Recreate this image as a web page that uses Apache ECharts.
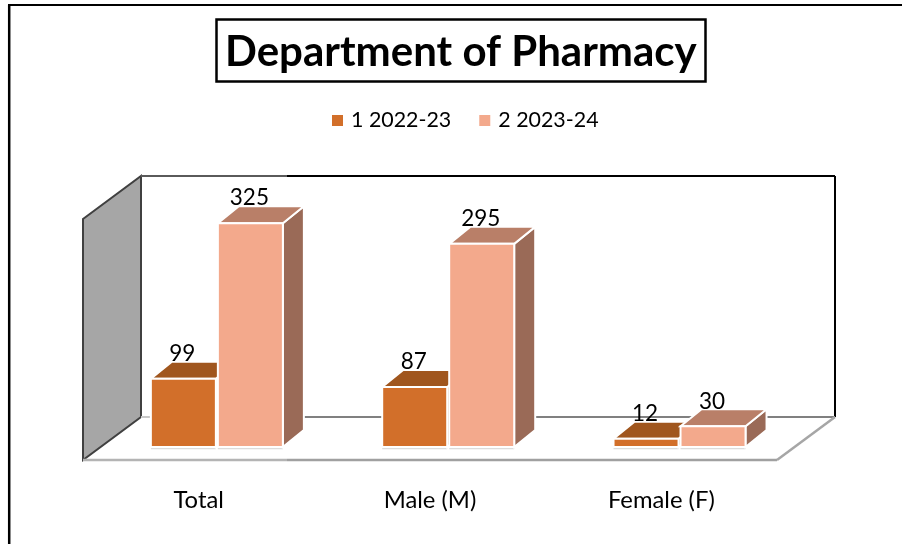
<!DOCTYPE html>
<html><head><meta charset="utf-8">
<style>html,body{margin:0;padding:0;background:#fff}#c{width:902px;height:544px}</style>
<script src="https://cdn.jsdelivr.net/npm/echarts@6/dist/echarts.min.js"></script>
</head><body><div id="c"></div>
<script>
const titleText = 'Department of Pharmacy';
const categories = ['Total', 'Male (M)', 'Female (F)'];
const seriesNames = ['1 2022-23', '2 2023-24'];
const values2022 = [99, 87, 12];
const values2023 = [325, 295, 30];
const FONT = 'Lato';
const chart = echarts.init(document.getElementById('c'));
const depth = {wallX:58, wallY:43, planeX:18.2, planeY:13, barX:21, barY:17};

function poly(points, fill) {
  return {type:'polygon', shape:{points}, style:{fill, stroke:'#fff', lineWidth:2, lineJoin:'miter'}};
}
function seg(x1,y1,x2,y2,color,w){
  return {type:'line', shape:{x1,y1,x2,y2}, style:{stroke:color, lineWidth:w||2}};
}
function renderWalls(params, api){
  const c = params.coordSys, L=c.x, R=c.x+c.width, B=c.y+c.height, T=c.y;
  const dx=depth.wallX, dy=depth.wallY;
  const mid = L + 204;
  return {type:'group', children:[
    {type:'polygon', shape:{points:[[L,T],[L+dx,T-dy],[L+dx,B-dy],[L,B]]},
      style:{fill:'#a6a6a6', stroke:'#404040', lineWidth:2}},
    seg(L+dx,T-dy,mid,T-dy,'#5a5a5a'), seg(mid,T-dy,R+dx,T-dy,'#000'),
    seg(R+dx,T-dy,R+dx,B-dy,'#000'),
    seg(L+dx,B-dy,mid,B-dy,'#c8c8c8'), seg(mid,B-dy,R+dx,B-dy,'#808080'),
    seg(L,B,mid,B,'#b4b4b4',2.5), seg(mid,B,R,B,'#a0a0a0',2.5),
    seg(R,B,R+dx,B-dy,'#a6a6a6',2.5)
  ]};
}
function barRenderer(front, top, side, sign){
  return function(params, api){
    const i = api.value(0), v = api.value(1);
    const p = api.coord([i, v]), p0 = api.coord([i, 0]);
    const band = api.size([1, 0])[0];
    const w = band * 0.281, gap = 1;
    const x0 = p[0] + depth.planeX + (sign < 0 ? -gap - w : gap), x1 = x0 + w;
    const yT = p[1] - depth.planeY, yB = p0[1] - depth.planeY;
    const dx = depth.barX, dy = depth.barY;
    return {type:'group', children:[
      seg(x0,yB+1.5,x1,yB+1.5,'#dcdcdc',1.5),
      poly([[x1,yT],[x1+dx,yT-dy],[x1+dx,yB-dy],[x1,yB]], side),
      poly([[x0,yT],[x0+dx,yT-dy],[x1+dx,yT-dy],[x1,yT]], top),
      poly([[x0,yT],[x1,yT],[x1,yB],[x0,yB]], front),
      {type:'text', z2:50, style:{text:String(v), x:(x0+x1)/2-1, y:yT-25, align:'center', verticalAlign:'middle',
        font:'22.5px '+FONT, fill:'#000'}}
    ]};
  };
}
const toData = a => a.map((v,i)=>[i,v]);
chart.setOption({
  animation:false,
  backgroundColor:'#fff',
  title:{text:titleText, left:216, top:19, padding:[12,9,9,9], borderColor:'#000', borderWidth:2.5,
    textStyle:{fontFamily:FONT, fontWeight:'bold', fontSize:42, color:'#000'}},
  legend:{data:seriesNames, left:327, top:105, itemWidth:11, itemHeight:11, itemGap:28, icon:'rect',
    textStyle:{fontFamily:FONT, fontSize:21.4, color:'#000', padding:[0,0,0,3]}},
  grid:{left:83, top:219, width:694, height:241},
  xAxis:{type:'category', data:categories, axisLine:{show:false}, axisTick:{show:false},
    axisLabel:{margin:28, fontFamily:FONT, fontSize:23.8, color:'#000'}},
  yAxis:{type:'value', min:0, max:350, show:false, splitLine:{show:false}},
  graphic:[
    {type:'line', shape:{x1:8,y1:5,x2:902,y2:5}, style:{stroke:'#000',lineWidth:2}},
    {type:'line', shape:{x1:9.2,y1:5,x2:9.2,y2:544}, style:{stroke:'#000',lineWidth:2.5}}
  ],
  series:[
    {type:'custom', name:'walls', silent:true, data:[[0,0]], renderItem:renderWalls, z:1},
    {type:'custom', name:seriesNames[0], data:toData(values2022), encode:{x:0,y:1}, z:2,
      itemStyle:{color:'#D26F2A'}, renderItem:barRenderer('#D26F2A','#A0561E','#8F5023',-1)},
    {type:'custom', name:seriesNames[1], data:toData(values2023), encode:{x:0,y:1}, z:3,
      itemStyle:{color:'#F3A98C'}, renderItem:barRenderer('#F3A98C','#B97F68','#9A6A57',1)}
  ]
});
</script></body></html>
